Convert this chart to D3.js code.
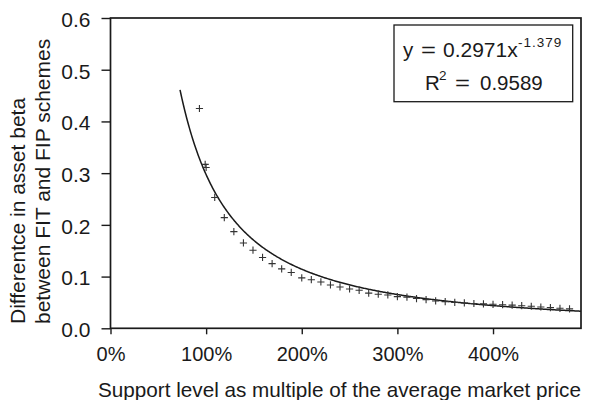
<!DOCTYPE html>
<html>
<head>
<meta charset="utf-8">
<script src="https://cdn.jsdelivr.net/npm/d3@7"></script>
<style>
  html, body { margin: 0; padding: 0; background: #fff; }
  svg { display: block; font-family: "Liberation Sans", Arial, sans-serif; }
</style>
</head>
<body>
<svg id="chart" width="596" height="400"></svg>
<script>
// ---- data ----
const supportLevel = [0.93, 0.99, 1.0, 1.09, 1.19, 1.29, 1.39, 1.49, 1.59, 1.69, 1.79, 1.89,
  2.0, 2.1, 2.2, 2.3, 2.4, 2.5, 2.6, 2.7, 2.8, 2.9, 3.0, 3.1, 3.2, 3.3, 3.4, 3.5,
  3.6, 3.7, 3.8, 3.9, 4.0, 4.1, 4.2, 4.3, 4.4, 4.5, 4.6, 4.7, 4.8];
const betaDifference = [0.425, 0.317, 0.311, 0.253, 0.214, 0.187, 0.165, 0.151, 0.137, 0.125, 0.115, 0.108,
  0.0975, 0.094, 0.0896, 0.0838, 0.080, 0.076, 0.0735, 0.068, 0.0658, 0.0645, 0.0613, 0.0603, 0.0575, 0.0555, 0.0529, 0.0516,
  0.0500, 0.0490, 0.0480, 0.0472, 0.0464, 0.0456, 0.0448, 0.0437, 0.0426, 0.0412, 0.0400, 0.0387, 0.0375];
// trendline (power fit shown in the chart)
const trendCoef = 0.2971;
const trendExp = -1.379;
const trendR2 = 0.9589;
const trendRange = [0.727, 4.92];
const xTicks = [0, 1, 2, 3, 4];
const xTickLabels = ["0%", "100%", "200%", "300%", "400%"];
const yTicks = [0, 0.1, 0.2, 0.3, 0.4, 0.5, 0.6];
const yTickLabels = ["0.0", "0.1", "0.2", "0.3", "0.4", "0.5", "0.6"];
const xTitle = "Support level as multiple of the average market price";
const yTitleLines = ["Differentce in asset beta", "between FIT and FIP schemes"];

// ---- layout ----
const svg = d3.select("#chart");
const L = 110.5, R = 581, T = 18, B = 328.3;
const x = d3.scaleLinear().domain([0, 4.92]).range([L, R]);
const y = d3.scaleLinear().domain([0, 0.6]).range([B, T]);
const ink = "#1a1a1a";
const FF = "Liberation Sans, Arial, sans-serif";

// frame
svg.append("rect").attr("x", L).attr("y", T).attr("width", R - L).attr("height", B - T)
  .attr("fill", "none").attr("stroke", ink).attr("stroke-width", 1.7);

// axes
const yAxis = d3.axisLeft(y).tickValues(yTicks).tickFormat((d, i) => yTickLabels[i]).tickSize(9).tickPadding(11);
const gy = svg.append("g").attr("transform", `translate(${L},0)`).call(yAxis);
gy.select(".domain").remove();
gy.selectAll("line").attr("stroke", ink).attr("stroke-width", 1.4);
gy.selectAll("text").attr("font-size", 21).attr("fill", ink).attr("font-family", FF).attr("dy", "0.40em");

const xAxis = d3.axisBottom(x).tickValues(xTicks).tickFormat((d, i) => xTickLabels[i]).tickSize(6).tickPadding(0);
const gx = svg.append("g").attr("transform", `translate(0,${B})`).call(xAxis);
gx.select(".domain").remove();
gx.selectAll("line").attr("stroke", ink).attr("stroke-width", 1.4);
gx.selectAll("text").attr("font-size", 20).attr("fill", ink).attr("font-family", FF)
  .attr("y", 33).attr("dy", 0);

// trendline
const trendX = d3.range(trendRange[0], trendRange[1], 0.01).concat([trendRange[1]]);
svg.append("path")
  .datum(trendX)
  .attr("fill", "none").attr("stroke", ink).attr("stroke-width", 1.5)
  .attr("d", d3.line().x(d => x(d)).y(d => y(trendCoef * Math.pow(d, trendExp))));

// points (+ markers)
const s = 3.6;
svg.append("g").selectAll("path").data(supportLevel.map((d, i) => [d, betaDifference[i]]))
  .join("path")
  .attr("d", d => `M${x(d[0]) - s},${y(d[1])}H${x(d[0]) + s}M${x(d[0])},${y(d[1]) - s}V${y(d[1]) + s}`)
  .attr("stroke", "#333").attr("stroke-width", 1.1).attr("fill", "none");

// legend box
svg.append("rect").attr("x", 394).attr("y", 25).attr("width", 178.7).attr("height", 76.7)
  .attr("fill", "#fff").attr("stroke", ink).attr("stroke-width", 1.3);
const g1 = svg.append("g").attr("fill", ink).attr("font-size", 20.5);
g1.append("text").attr("x", 403).attr("y", 57.3).text("y");
g1.append("text").attr("x", 421).attr("y", 57.3).attr("transform", "translate(421,0) scale(1.25,1) translate(-421,0)").text("=");
g1.append("text").attr("x", 443).attr("y", 57.3).attr("font-size", 21).text(`${trendCoef}x`);
g1.append("text").attr("x", 518).attr("y", 46.7).attr("font-size", 13.5).attr("letter-spacing", 1).text(`${trendExp}`);
g1.append("text").attr("x", 425).attr("y", 90).text("R");
g1.append("text").attr("x", 439).attr("y", 80).attr("font-size", 13.5).text("2");
g1.append("text").attr("x", 455).attr("y", 90).attr("transform", "translate(455,0) scale(1.25,1) translate(-455,0)").text("=");
g1.append("text").attr("x", 480).attr("y", 90).text(`${trendR2}`);

// axis titles
svg.append("text").attr("x", 98).attr("y", 397).attr("text-anchor", "start")
  .attr("font-size", 20.7).attr("fill", ink).text(xTitle);
const yt = svg.append("text").attr("transform", `translate(25,324) rotate(-90)`)
  .attr("text-anchor", "start").attr("font-size", 21).attr("fill", ink);
yTitleLines.forEach((t, i) => yt.append("tspan").attr("x", 0).attr("dy", i === 0 ? 0 : 25).text(t));
</script>
</body>
</html>
